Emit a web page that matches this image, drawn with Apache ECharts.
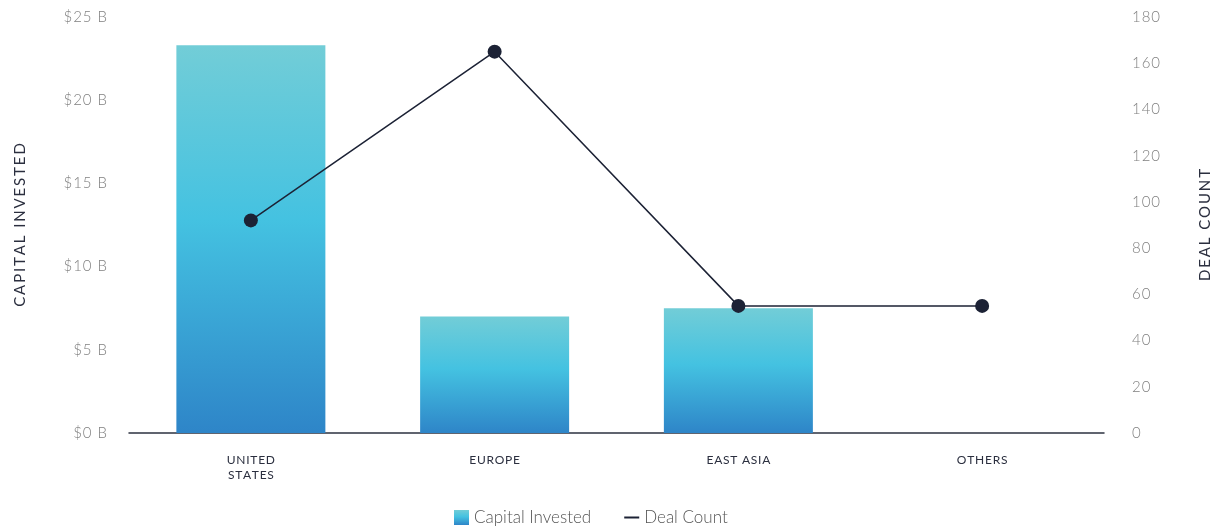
<!DOCTYPE html>
<html>
<head>
<meta charset="utf-8">
<script src="https://cdn.jsdelivr.net/npm/echarts@6/dist/echarts.min.js"></script>
<style>
html,body{margin:0;padding:0;background:#fff;}
#chart{width:1219px;height:527px;}
</style>
</head>
<body>
<div id="chart"></div>
<script>
const categories = ['UNITED\nSTATES', 'EUROPE', 'EAST ASIA', 'OTHERS'];
const capitalInvested = [23.3, 7.0, 7.5, 0];
const dealCount = [92, 165, 55, 55];
const leftTicks = { min: 0, max: 25, interval: 5 };
const rightTicks = { min: 0, max: 180, interval: 20 };

// emulate letter spacing with hair spaces (text stays real text)
const spaced = (s, n) => s.split('\n').map(line => Array.from(line).join('\u200A'.repeat(n || 1))).join('\n');

const chart = echarts.init(document.getElementById('chart'), null, { renderer: 'canvas' });
const barGradient = new echarts.graphic.LinearGradient(0, 0, 0, 1, [
  { offset: 0, color: '#72cdd7' },
  { offset: 0.45, color: '#44c2e1' },
  { offset: 1, color: '#2e85c8' }
]);
const font = 'Lato, "Open Sans", sans-serif';
chart.setOption({
  animation: false,
  textStyle: { fontFamily: font },
  grid: { left: 129, right: 115, top: 17, bottom: 94, outerBoundsMode: 'none', containLabel: false },
  legend: {
    left: 449, top: 504,
    itemGap: 32, itemWidth: 15, itemHeight: 15,
    textStyle: { fontSize: 17, color: '#555', fontFamily: font, fontWeight: 300 },
    data: [
      { name: 'Capital Invested', icon: 'rect' },
      { name: 'Deal Count', itemStyle: { opacity: 0 } }
    ]
  },
  xAxis: {
    type: 'category',
    data: categories,
    axisTick: { show: false },
    axisLine: { lineStyle: { color: '#2d3240', width: 1.5 } },
    axisLabel: { color: '#2b2f3f', fontSize: 12, margin: 20, lineHeight: 15, fontFamily: font, formatter: v => spaced(v, 1) }
  },
  yAxis: [
    {
      type: 'value', min: leftTicks.min, max: leftTicks.max, interval: leftTicks.interval,
      name: spaced('CAPITAL INVESTED', 2), nameLocation: 'middle', nameGap: 101, nameRotate: 90,
      nameTextStyle: { fontSize: 15, color: '#2b2f3f', fontFamily: font },
      splitLine: { show: false }, axisLine: { show: false }, axisTick: { show: false },
      axisLabel: { formatter: v => spaced('$' + v + ' B', 1), color: '#808080', fontSize: 15, margin: 22, fontWeight: 300, fontFamily: font }
    },
    {
      type: 'value', min: rightTicks.min, max: rightTicks.max, interval: rightTicks.interval,
      name: spaced('DEAL COUNT', 2), nameLocation: 'middle', nameGap: 94, nameRotate: 90,
      nameTextStyle: { fontSize: 15, color: '#2b2f3f', fontFamily: font },
      splitLine: { show: false }, axisLine: { show: false }, axisTick: { show: false },
      axisLabel: { formatter: v => spaced(String(v), 1), color: '#808080', fontSize: 15, margin: 28, fontWeight: 300, fontFamily: font }
    }
  ],
  series: [
    {
      name: 'Capital Invested', type: 'bar', yAxisIndex: 0,
      data: capitalInvested, barWidth: 149,
      itemStyle: { color: barGradient }
    },
    {
      name: 'Deal Count', type: 'line', yAxisIndex: 1,
      data: dealCount, symbol: 'circle', symbolSize: 14,
      lineStyle: { color: '#1c2235', width: 1.5 },
      itemStyle: { color: '#1c2235' }
    }
  ]
});
</script>
</body>
</html>
